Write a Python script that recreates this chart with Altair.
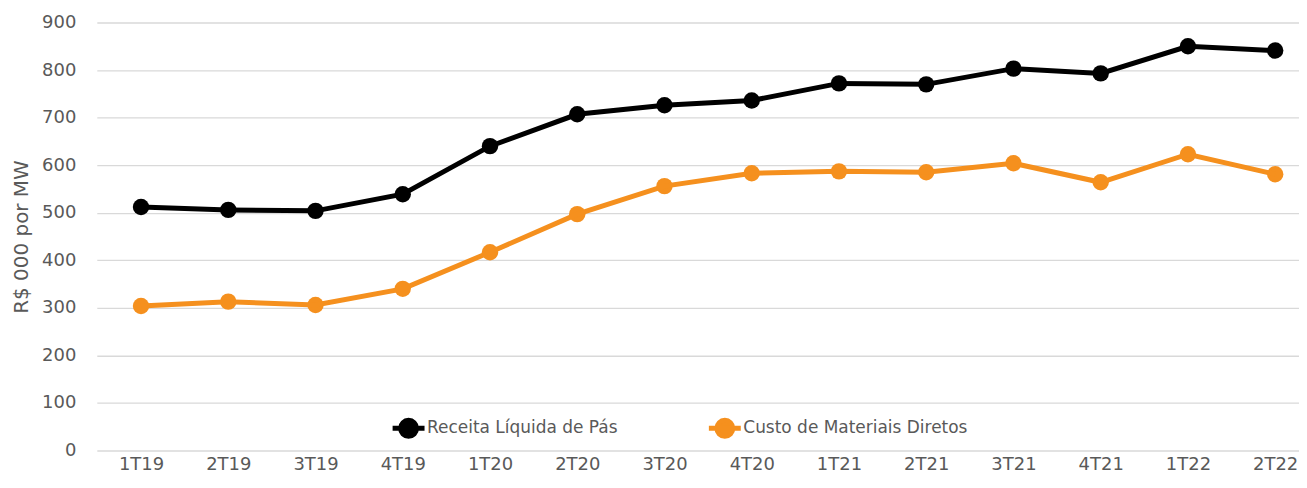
import altair as alt
import pandas as pd

quarters = ["1T19", "2T19", "3T19", "4T19", "1T20", "2T20", "3T20", "4T20",
            "1T21", "2T21", "3T21", "4T21", "1T22", "2T22"]
receita = [512, 506, 504, 539, 640, 707, 726, 736, 772, 770, 803, 793, 850, 841]
custo = [304, 313, 306, 340, 417, 497, 556, 583, 587, 585, 604, 564, 623, 581]
series_names = ["Receita Líquida de Pás", "Custo de Materiais Diretos"]
series_colors = ["#000000", "#F5901E"]

df = pd.DataFrame({
    "Trimestre": quarters * 2,
    "Valor": receita + custo,
    "Série": [series_names[0]] * len(quarters) + [series_names[1]] * len(quarters),
})

FONT = "DejaVu Sans"
GRAY = "#595959"

x_enc = alt.X("Trimestre:N", sort=quarters,
              scale=alt.Scale(type="point", padding=0.39, align=0.65),
              axis=alt.Axis(title=None, labelAngle=0, labelFont=FONT, labelFontSize=18,
                            labelColor=GRAY, ticks=False, domain=False, grid=False,
                            labelPadding=5))
y_enc = alt.Y("Valor:Q",
              scale=alt.Scale(domain=[0, 900]),
              axis=alt.Axis(title="R$ 000 por MW", values=list(range(0, 901, 100)),
                            labelFont=FONT, labelFontSize=18, labelColor=GRAY,
                            titleFont=FONT, titleFontSize=20, titleColor=GRAY,
                            titleFontWeight="normal", titlePadding=10,
                            ticks=False, domain=False, labelPadding=21,
                            gridColor="#D9D9D9", gridWidth=1.3))
color_enc = alt.Color("Série:N",
                      scale=alt.Scale(domain=series_names, range=series_colors),
                      legend=alt.Legend(title=None, orient="none", direction="horizontal",
                                        legendX=294, legendY=388,
                                        labelFont=FONT, labelFontSize=17, labelColor=GRAY,
                                        labelLimit=0,
                                        symbolType="M-1,0L1,0M-0.5,0A0.5,0.5,0,1,0,0.5,0A0.5,0.5,0,1,0,-0.5,0Z",
                                        symbolSize=1024, symbolStrokeWidth=5,
                                        labelOffset=0, columnPadding=80))

points = alt.Chart(df).mark_circle(size=270, opacity=1).encode(
    x=x_enc, y=y_enc, color=color_enc)
lines = alt.Chart(df).mark_line(strokeWidth=5).encode(
    x=x_enc, y=y_enc, color=color_enc)

chart = alt.layer(points, lines).properties(
    width=1205, height=429, background="white",
    padding={"left": 3, "top": 5, "right": 0, "bottom": 5},
).configure_view(strokeWidth=0, stroke=None).configure_axis(domain=False)

chart.save("out.html", embed_options={"renderer": "svg", "actions": False})
